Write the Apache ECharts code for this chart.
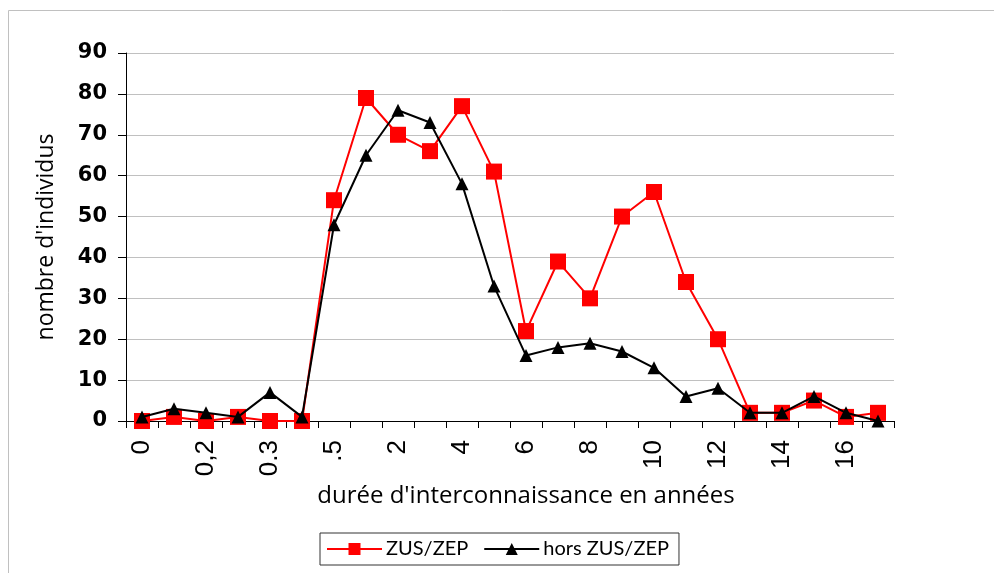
<!DOCTYPE html>
<html>
<head>
<meta charset="utf-8">
<script src="https://cdn.jsdelivr.net/npm/echarts@6/dist/echarts.min.js"></script>
<style>
  html, body { margin: 0; padding: 0; background: #fff; }
  #chart { width: 994px; height: 573px; }
</style>
</head>
<body>
<div id="chart"></div>
<script>
// categories (only every other label is printed in the original)
const categories = ["0", "0,1", "0,2", "0,25", "0.3", "0,4", ".5", "1", "2", "3", "4", "5",
  "6", "7", "8", "9", "10", "11", "12", "13", "14", "15", "16", "17"];
const zusZep = [0, 1, 0, 1, 0, 0, 54, 79, 70, 66, 77, 61, 22, 39, 30, 50, 56, 34, 20, 2, 2, 5, 1, 2];
const horsZusZep = [1, 3, 2, 1, 7, 1, 48, 65, 76, 73, 58, 33, 16, 18, 19, 17, 13, 6, 8, 2, 2, 6, 2, 0];
const yTicks = [0, 10, 20, 30, 40, 50, 60, 70, 80, 90];

const myChart = echarts.init(document.getElementById("chart"));
const labelFont = "'Liberation Sans', Arial, sans-serif";
const nameFont = "'Open Sans', Lato, sans-serif";

const option = {
  animation: false,
  backgroundColor: "#fff",
  graphic: [
    {
      type: "rect",
      shape: { x: 8.5, y: 10.5, width: 1000, height: 600 },
      style: { fill: "none", stroke: "#c0c0c0", lineWidth: 1 }
    }
  ],
  legend: {
    data: ["ZUS/ZEP", "hors ZUS/ZEP"],
    bottom: 8,
    left: 320,
    orient: "horizontal",
    borderColor: "#333",
    borderWidth: 1,
    borderRadius: 0,
    padding: [6, 10, 6, 6],
    itemGap: 15,
    itemWidth: 55,
    itemHeight: 15,
    textStyle: { fontFamily: "Lato, sans-serif", fontSize: 20, color: "#000", padding: [0, 0, 0, -1] }
  },
  grid: { left: 126, right: 100, top: 53, bottom: 152 },
  xAxis: {
    type: "category",
    data: categories,
    boundaryGap: true,
    name: "durée d'interconnaissance en années",
    nameLocation: "middle",
    nameGap: 62,
    nameTextStyle: { fontFamily: nameFont, fontSize: 24, color: "#000", padding: [0, 0, 0, 32] },
    axisLine: { lineStyle: { color: "#000", width: 1 } },
    axisTick: { show: true, alignWithLabel: false, interval: 0, length: 7, lineStyle: { color: "#000" } },
    axisLabel: {
      interval: 1,
      rotate: 90,
      margin: 19,
      fontFamily: labelFont,
      fontSize: 26,
      color: "#000"
    }
  },
  yAxis: {
    type: "value",
    min: 0,
    max: 90,
    interval: 10,
    name: "nombre d'individus",
    nameLocation: "middle",
    nameGap: 68,
    nameTextStyle: { fontFamily: nameFont, fontSize: 23, color: "#000" },
    axisLine: { show: true, lineStyle: { color: "#000", width: 1 } },
    axisTick: { show: true, length: 8, lineStyle: { color: "#000" } },
    axisLabel: {
      margin: 19,
      fontFamily: "'DejaVu Sans', sans-serif",
      fontSize: 21,
      fontWeight: "bold",
      color: "#000",
      formatter: function (v) { return yTicks.indexOf(v) >= 0 ? String(v) : ""; }
    },
    splitLine: { show: true, lineStyle: { color: "#c0c0c0", width: 1 } }
  },
  series: [
    {
      name: "ZUS/ZEP",
      type: "line",
      data: zusZep,
      symbol: "rect",
      symbolSize: 16,
      itemStyle: { color: "#ff0000" },
      lineStyle: { color: "#ff0000", width: 2 },
      z: 2
    },
    {
      name: "hors ZUS/ZEP",
      type: "line",
      data: horsZusZep,
      symbol: "triangle",
      symbolSize: 13,
      itemStyle: { color: "#000" },
      lineStyle: { color: "#000", width: 2 },
      z: 3
    }
  ]
};

myChart.setOption(option);
window.addEventListener("resize", function () { myChart.resize(); });
</script>
</body>
</html>
